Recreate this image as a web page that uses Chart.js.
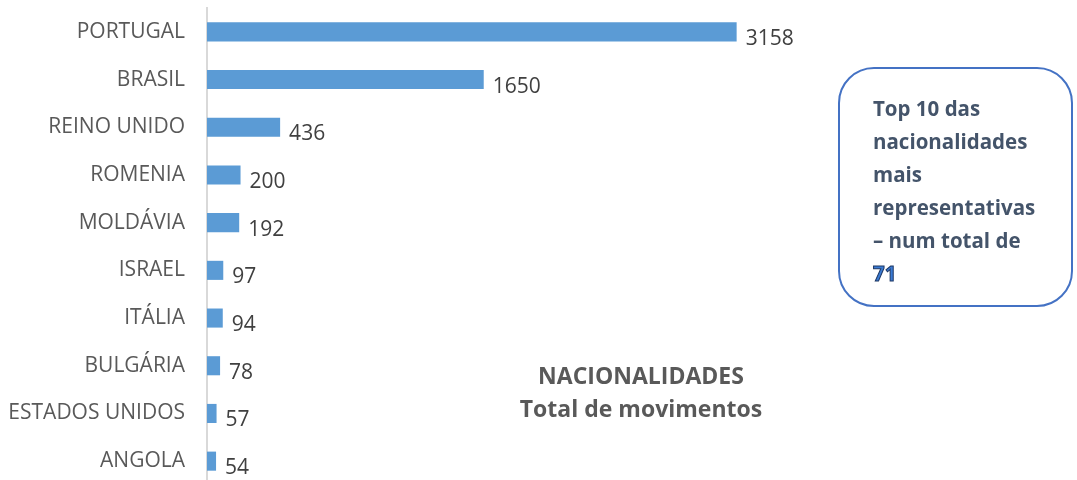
<!DOCTYPE html>
<html>
<head>
<meta charset="utf-8">
<script src="https://cdn.jsdelivr.net/npm/chart.js"></script>
<style>
  html, body { margin: 0; padding: 0; background: #fff; overflow: hidden; }
  #wrap { position: relative; width: 1077px; height: 490px; }
  #title {
    position: absolute; left: 491px; top: 359px; width: 300px;
    text-align: center; font-family: 'Open Sans', sans-serif; font-weight: 700;
    font-size: 23px; line-height: 33px; color: #595959;
  }
  #note {
    position: absolute; left: 838px; top: 67px; width: 235px; height: 240px;
    border: 2px solid #4472C4; border-radius: 36px; box-sizing: border-box;
    padding: 23px 0 0 33px;
    font-family: 'Open Sans', sans-serif; font-weight: 700; font-size: 20.5px;
    line-height: 33px; color: #44546A;
  }
  #note .num { color: #3A7BD5; -webkit-text-stroke: 1px #1F3864; }
</style>
</head>
<body>
<div id="wrap">
  <canvas id="chart"></canvas>
  <div id="title">NACIONALIDADES<br>Total de movimentos</div>
  <div id="note">Top 10 das<br>nacionalidades<br>mais<br>representativas<br>– num total de<br><span class="num">71</span></div>
</div>
<script>
const categories = ['PORTUGAL', 'BRASIL', 'REINO UNIDO', 'ROMENIA', 'MOLDÁVIA', 'ISRAEL', 'ITÁLIA', 'BULGÁRIA', 'ESTADOS UNIDOS', 'ANGOLA'];
const movimentos = [3158, 1650, 436, 200, 192, 97, 94, 78, 57, 54];

// value labels to the right of each bar, a bit below centre like the original
const valueLabels = {
  id: 'valueLabels',
  afterDatasetsDraw(chart) {
    const ctx = chart.ctx;
    const meta = chart.getDatasetMeta(0);
    ctx.save();
    ctx.font = '21px "Open Sans"';
    ctx.fillStyle = '#404040';
    ctx.textAlign = 'left';
    ctx.textBaseline = 'middle';
    meta.data.forEach((bar, i) => {
      ctx.fillText(String(movimentos[i]), bar.x + 9, bar.y + 7);
    });
    ctx.restore();
  }
};

const canvas = document.getElementById('chart');
canvas.width = 1077;
canvas.height = 490;

new Chart(canvas, {
  type: 'bar',
  data: {
    labels: categories,
    datasets: [{
      data: movimentos,
      backgroundColor: '#5B9BD5',
      borderWidth: 0,
      categoryPercentage: 1,
      barPercentage: 0.4
    }]
  },
  options: {
    indexAxis: 'y',
    responsive: false,
    animation: false,
    layout: { padding: { top: 8, bottom: 5, left: 0, right: 283 } },
    plugins: { legend: { display: false }, tooltip: { enabled: false } },
    scales: {
      x: { display: false, min: 0, max: 3500 },
      y: {
        afterFit(scale) {
          scale.width = 207;
          scale.paddingTop = 0;
          scale.paddingBottom = 0;
        },
        grid: { display: false, drawTicks: false },
        border: { display: true, color: '#D9D9D9', width: 2 },
        ticks: {
          padding: 22,
          color: '#595959',
          font: { family: 'Open Sans', size: 21 }
        }
      }
    }
  },
  plugins: [valueLabels]
});
</script>
</body>
</html>
